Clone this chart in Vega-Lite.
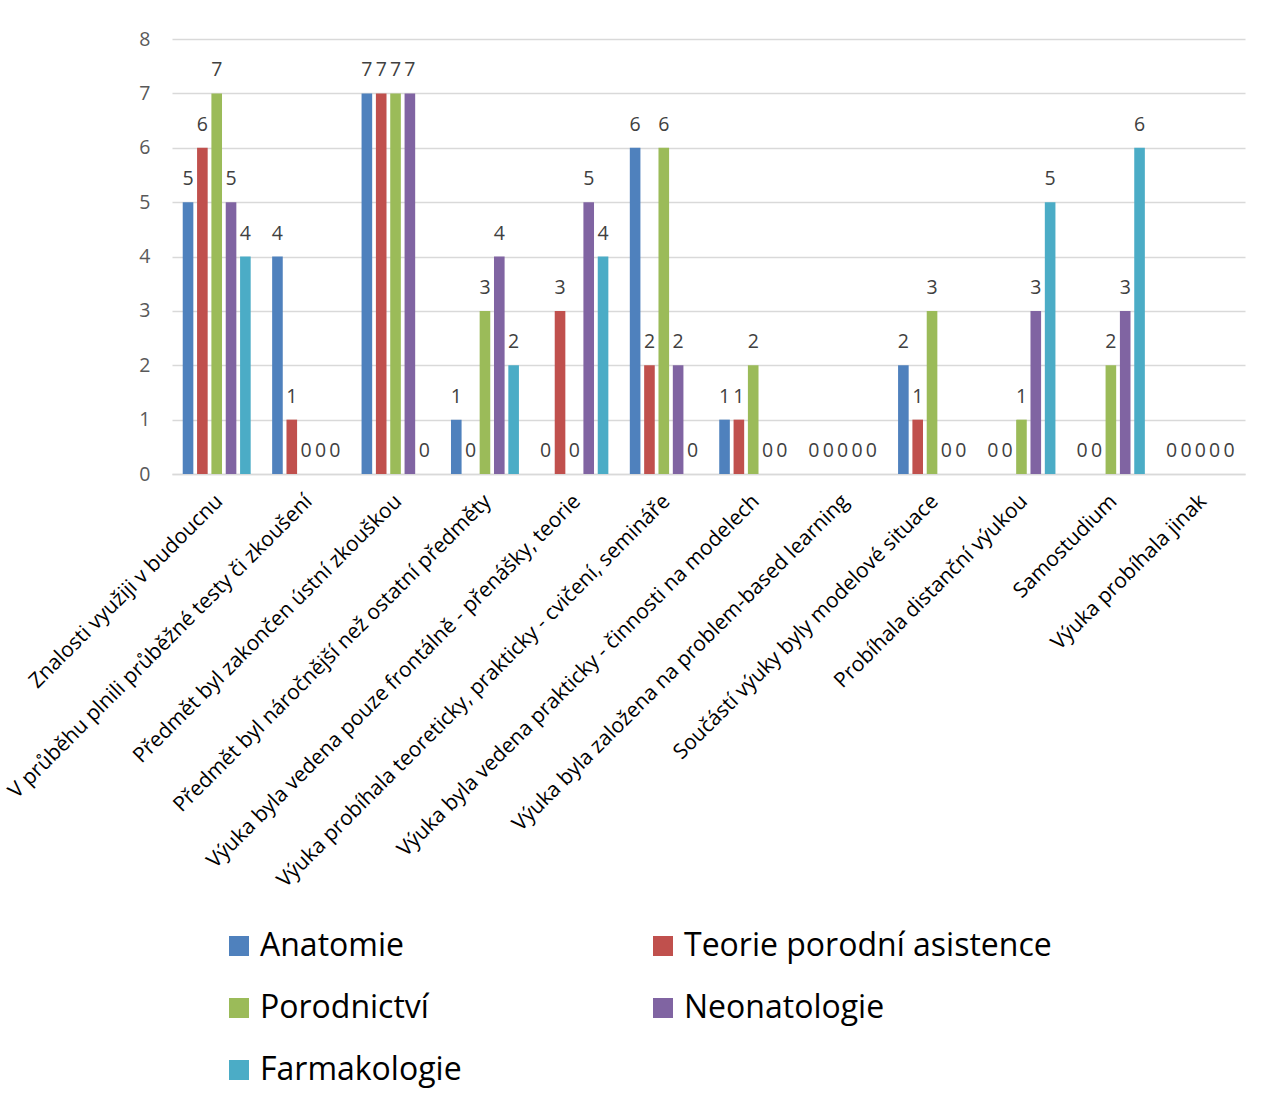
{
  "$schema": "https://vega.github.io/schema/vega-lite/v6.json",
  "autosize": {"type": "none"},
  "width": 1073,
  "height": 435,
  "padding": {"left": 172, "top": 39, "right": 22, "bottom": 630},
  "background": "white",
  "config": {
    "font": "Open Sans",
    "view": {"stroke": null},
    "axis": {"labelFont": "Open Sans"},
    "legend": {"labelFont": "Open Sans"}
  },
  "data": {
    "values": [
      {"kategorie": "Znalosti využiji v budoucnu", "predmet": "Anatomie", "pocet": 5},
      {"kategorie": "Znalosti využiji v budoucnu", "predmet": "Teorie porodní asistence", "pocet": 6},
      {"kategorie": "Znalosti využiji v budoucnu", "predmet": "Porodnictví", "pocet": 7},
      {"kategorie": "Znalosti využiji v budoucnu", "predmet": "Neonatologie", "pocet": 5},
      {"kategorie": "Znalosti využiji v budoucnu", "predmet": "Farmakologie", "pocet": 4},
      {"kategorie": "V průběhu plnili průběžné testy či zkoušení", "predmet": "Anatomie", "pocet": 4},
      {"kategorie": "V průběhu plnili průběžné testy či zkoušení", "predmet": "Teorie porodní asistence", "pocet": 1},
      {"kategorie": "V průběhu plnili průběžné testy či zkoušení", "predmet": "Porodnictví", "pocet": 0},
      {"kategorie": "V průběhu plnili průběžné testy či zkoušení", "predmet": "Neonatologie", "pocet": 0},
      {"kategorie": "V průběhu plnili průběžné testy či zkoušení", "predmet": "Farmakologie", "pocet": 0},
      {"kategorie": "Předmět byl zakončen ústní zkouškou", "predmet": "Anatomie", "pocet": 7},
      {"kategorie": "Předmět byl zakončen ústní zkouškou", "predmet": "Teorie porodní asistence", "pocet": 7},
      {"kategorie": "Předmět byl zakončen ústní zkouškou", "predmet": "Porodnictví", "pocet": 7},
      {"kategorie": "Předmět byl zakončen ústní zkouškou", "predmet": "Neonatologie", "pocet": 7},
      {"kategorie": "Předmět byl zakončen ústní zkouškou", "predmet": "Farmakologie", "pocet": 0},
      {"kategorie": "Předmět byl náročnější než ostatní předměty", "predmet": "Anatomie", "pocet": 1},
      {"kategorie": "Předmět byl náročnější než ostatní předměty", "predmet": "Teorie porodní asistence", "pocet": 0},
      {"kategorie": "Předmět byl náročnější než ostatní předměty", "predmet": "Porodnictví", "pocet": 3},
      {"kategorie": "Předmět byl náročnější než ostatní předměty", "predmet": "Neonatologie", "pocet": 4},
      {"kategorie": "Předmět byl náročnější než ostatní předměty", "predmet": "Farmakologie", "pocet": 2},
      {"kategorie": "Výuka byla vedena pouze frontálně - přenášky, teorie", "predmet": "Anatomie", "pocet": 0},
      {"kategorie": "Výuka byla vedena pouze frontálně - přenášky, teorie", "predmet": "Teorie porodní asistence", "pocet": 3},
      {"kategorie": "Výuka byla vedena pouze frontálně - přenášky, teorie", "predmet": "Porodnictví", "pocet": 0},
      {"kategorie": "Výuka byla vedena pouze frontálně - přenášky, teorie", "predmet": "Neonatologie", "pocet": 5},
      {"kategorie": "Výuka byla vedena pouze frontálně - přenášky, teorie", "predmet": "Farmakologie", "pocet": 4},
      {"kategorie": "Výuka probíhala teoreticky, prakticky - cvičení, semináře", "predmet": "Anatomie", "pocet": 6},
      {"kategorie": "Výuka probíhala teoreticky, prakticky - cvičení, semináře", "predmet": "Teorie porodní asistence", "pocet": 2},
      {"kategorie": "Výuka probíhala teoreticky, prakticky - cvičení, semináře", "predmet": "Porodnictví", "pocet": 6},
      {"kategorie": "Výuka probíhala teoreticky, prakticky - cvičení, semináře", "predmet": "Neonatologie", "pocet": 2},
      {"kategorie": "Výuka probíhala teoreticky, prakticky - cvičení, semináře", "predmet": "Farmakologie", "pocet": 0},
      {"kategorie": "Výuka byla vedena prakticky - činnosti na modelech", "predmet": "Anatomie", "pocet": 1},
      {"kategorie": "Výuka byla vedena prakticky - činnosti na modelech", "predmet": "Teorie porodní asistence", "pocet": 1},
      {"kategorie": "Výuka byla vedena prakticky - činnosti na modelech", "predmet": "Porodnictví", "pocet": 2},
      {"kategorie": "Výuka byla vedena prakticky - činnosti na modelech", "predmet": "Neonatologie", "pocet": 0},
      {"kategorie": "Výuka byla vedena prakticky - činnosti na modelech", "predmet": "Farmakologie", "pocet": 0},
      {"kategorie": "Výuka byla založena na problem-based learning", "predmet": "Anatomie", "pocet": 0},
      {"kategorie": "Výuka byla založena na problem-based learning", "predmet": "Teorie porodní asistence", "pocet": 0},
      {"kategorie": "Výuka byla založena na problem-based learning", "predmet": "Porodnictví", "pocet": 0},
      {"kategorie": "Výuka byla založena na problem-based learning", "predmet": "Neonatologie", "pocet": 0},
      {"kategorie": "Výuka byla založena na problem-based learning", "predmet": "Farmakologie", "pocet": 0},
      {"kategorie": "Součástí výuky byly modelové situace", "predmet": "Anatomie", "pocet": 2},
      {"kategorie": "Součástí výuky byly modelové situace", "predmet": "Teorie porodní asistence", "pocet": 1},
      {"kategorie": "Součástí výuky byly modelové situace", "predmet": "Porodnictví", "pocet": 3},
      {"kategorie": "Součástí výuky byly modelové situace", "predmet": "Neonatologie", "pocet": 0},
      {"kategorie": "Součástí výuky byly modelové situace", "predmet": "Farmakologie", "pocet": 0},
      {"kategorie": "Probíhala distanční výukou", "predmet": "Anatomie", "pocet": 0},
      {"kategorie": "Probíhala distanční výukou", "predmet": "Teorie porodní asistence", "pocet": 0},
      {"kategorie": "Probíhala distanční výukou", "predmet": "Porodnictví", "pocet": 1},
      {"kategorie": "Probíhala distanční výukou", "predmet": "Neonatologie", "pocet": 3},
      {"kategorie": "Probíhala distanční výukou", "predmet": "Farmakologie", "pocet": 5},
      {"kategorie": "Samostudium", "predmet": "Anatomie", "pocet": 0},
      {"kategorie": "Samostudium", "predmet": "Teorie porodní asistence", "pocet": 0},
      {"kategorie": "Samostudium", "predmet": "Porodnictví", "pocet": 2},
      {"kategorie": "Samostudium", "predmet": "Neonatologie", "pocet": 3},
      {"kategorie": "Samostudium", "predmet": "Farmakologie", "pocet": 6},
      {"kategorie": "Výuka probíhala jinak", "predmet": "Anatomie", "pocet": 0},
      {"kategorie": "Výuka probíhala jinak", "predmet": "Teorie porodní asistence", "pocet": 0},
      {"kategorie": "Výuka probíhala jinak", "predmet": "Porodnictví", "pocet": 0},
      {"kategorie": "Výuka probíhala jinak", "predmet": "Neonatologie", "pocet": 0},
      {"kategorie": "Výuka probíhala jinak", "predmet": "Farmakologie", "pocet": 0}
    ]
  },
  "encoding": {
    "x": {
      "field": "kategorie", "type": "nominal", "sort": null, "title": null,
      "scale": {"paddingInner": 0.24, "paddingOuter": 0.12},
      "axis": {
        "labelAngle": -45, "labelAlign": "right", "labelBaseline": "middle",
        "labelFontSize": 21, "labelColor": "#000000", "labelPadding": 24, "labelOffset": 3,
        "labelLimit": 700, "ticks": false, "domain": true, "domainColor": "#D9D9D9", "domainWidth": 1.5,
        "grid": false
      }
    },
    "xOffset": {
      "field": "predmet", "type": "nominal", "sort": ["Anatomie", "Teorie porodní asistence", "Porodnictví", "Neonatologie", "Farmakologie"],
      "scale": {"paddingInner": 0.26, "paddingOuter": 0}
    },
    "y": {
      "field": "pocet", "type": "quantitative", "title": null,
      "scale": {"domain": [0, 8], "nice": false},
      "axis": {
        "values": [0, 1, 2, 3, 4, 5, 6, 7, 8],
        "labelFontSize": 19.5, "labelColor": "#595959", "labelPadding": 22,
        "ticks": false, "domain": false, "gridColor": "#D9D9D9", "gridWidth": 1.5
      }
    }
  },
  "layer": [
    {
      "mark": {"type": "bar"},
      "encoding": {
        "color": {
          "field": "predmet", "type": "nominal", "title": null,
          "scale": {
            "domain": ["Anatomie", "Teorie porodní asistence", "Porodnictví", "Neonatologie", "Farmakologie"],
            "range": ["#4F81BD", "#C0504D", "#9BBB59", "#8064A2", "#4BACC6"]
          },
          "legend": {
            "orient": "none", "legendX": 51, "legendY": 891, "direction": "horizontal", "columns": 2,
            "symbolType": "square", "symbolSize": 400, "symbolStrokeWidth": 0,
            "labelFontSize": 32, "labelColor": "#000000", "labelOffset": 5,
            "rowPadding": 30, "columnPadding": 185, "labelLimit": 600, "padding": 0
          }
        }
      }
    },
    {
      "mark": {"type": "text", "baseline": "alphabetic", "dy": -17, "fontSize": 19.5, "color": "#404040"},
      "encoding": {
        "text": {"field": "pocet", "type": "quantitative"}
      }
    }
  ]
}
